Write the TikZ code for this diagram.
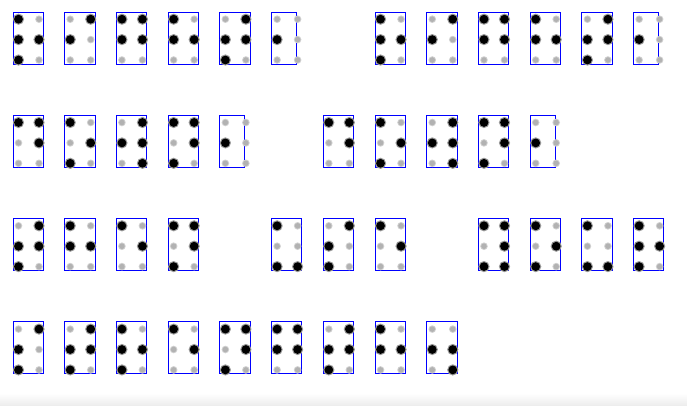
\documentclass[tikz,border=0pt]{standalone}
\usetikzlibrary{calc}
\definecolor{cellblue}{RGB}{0,0,255}
\tikzset{
  cellbox/.style={draw=cellblue, line width=1pt, inner sep=0pt, outer sep=0pt,
    minimum height=52pt, anchor=north west},
  greyhalo/.style={fill=black!18},
  greydot/.style={fill=black!30},
  halodot/.style={fill=black!40},
  blackdot/.style={fill=black},
}
% #1 name, #2 column, #3 row, #4 raised dots, #5 box width
\newcommand\brcell[5]{%
  \node[cellbox, minimum width=#5pt] (#1) at ({13+51.72*#2},{12+103.3*#3}) {};
  \foreach \gx in {0,20.5}{\foreach \gy in {0,20.4,40.8}{
    \fill[greyhalo] ($(#1.north west)+(5.5+\gx,7.2+\gy)$) circle[radius=3.8pt];
    \fill[greydot] ($(#1.north west)+(5.5+\gx,7.2+\gy)$) circle[radius=2.8pt];}}
  \foreach \k in {#4}{%
    \pgfmathsetmacro\cx{\k>3 ? 20.5 : 0}%
    \pgfmathsetmacro\cy{mod(\k-1,3)*20.4}%
    \fill[halodot] ($(#1.north west)+(5.5+\cx,7.2+\cy)$) circle[radius=5.6pt];
    \fill[blackdot] ($(#1.north west)+(5.5+\cx,7.2+\cy)$) circle[radius=4.4pt];}%
}
\begin{document}
\begin{tikzpicture}[x=1pt,y=-1pt]
\useasboundingbox (0,0) rectangle (687,405);
\fill[white] (0,0) rectangle (687,405);
\shade[top color=white, bottom color=black!7] (0,393) rectangle (687,405);
% row 1
\brcell{a1}{0}{0}{1,2,3,5}{30.3}
\brcell{a2}{1}{0}{2,4}{30.3}
\brcell{a3}{2}{0}{1,2,4,5}{30.3}
\brcell{a4}{3}{0}{1,2,5}{30.3}
\brcell{a5}{4}{0}{2,3,4,5}{30.3}
\brcell{a6}{5}{0}{2}{25}
\brcell{a7}{7}{0}{1,2,3,5}{30.3}
\brcell{a8}{8}{0}{2,4}{30.3}
\brcell{a9}{9}{0}{1,2,4,5}{30.3}
\brcell{a10}{10}{0}{1,2,5}{30.3}
\brcell{a11}{11}{0}{2,3,4,5}{30.3}
\brcell{a12}{12}{0}{2}{25}
% row 2
\brcell{b1}{0}{1}{1,4,5}{30.3}
\brcell{b2}{1}{1}{1,3,5}{30.3}
\brcell{b3}{2}{1}{2,4,5,6}{30.3}
\brcell{b4}{3}{1}{1,3,4,5}{30.3}
\brcell{b5}{4}{1}{2}{25}
\brcell{b6}{6}{1}{1,4,5}{30.3}
\brcell{b7}{7}{1}{1,3,5}{30.3}
\brcell{b8}{8}{1}{2,4,5,6}{30.3}
\brcell{b9}{9}{1}{1,3,4,5}{30.3}
\brcell{b10}{10}{1}{2}{25}
% row 3
\brcell{c1}{0}{2}{2,3,4,5}{30.3}
\brcell{c2}{1}{2}{1,2,5}{30.3}
\brcell{c3}{2}{2}{1,5}{30.3}
\brcell{c4}{3}{2}{1,3,4,5}{30.3}
\brcell{c5}{5}{2}{1,3,6}{30.3}
\brcell{c6}{6}{2}{2,3,4}{30.3}
\brcell{c7}{7}{2}{1,5}{30.3}
\brcell{c8}{9}{2}{1,3,4,5,6}{30.3}
\brcell{c9}{10}{2}{1,3,5}{30.3}
\brcell{c10}{11}{2}{1,3,6}{30.3}
\brcell{c11}{12}{2}{1,2,3,5}{30.3}
% row 4
\brcell{d1}{0}{3}{2,3,4}{30.3}
\brcell{d2}{1}{3}{2,3,4,5}{30.3}
\brcell{d3}{2}{3}{1,2,3,5}{30.3}
\brcell{d4}{3}{3}{1,5}{30.3}
\brcell{d5}{4}{3}{1,3,4,5}{30.3}
\brcell{d6}{5}{3}{1,2,4,5}{30.3}
\brcell{d7}{6}{3}{2,3,4,5}{30.3}
\brcell{d8}{7}{3}{1,2,5}{30.3}
\brcell{d9}{8}{3}{2,5,6}{30.3}
\end{tikzpicture}
\end{document}
